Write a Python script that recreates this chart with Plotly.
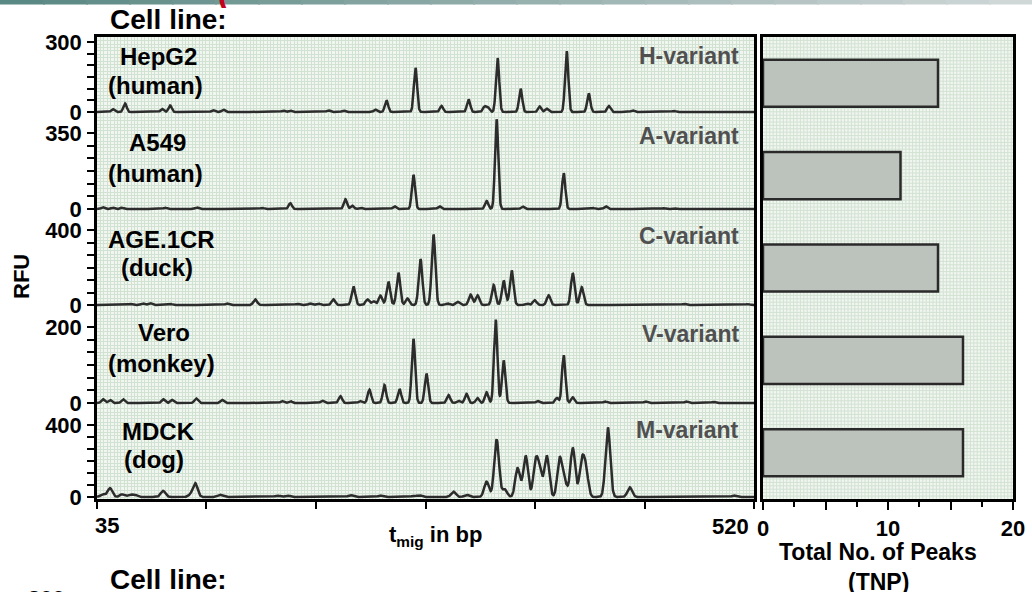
import numpy as np
import plotly.graph_objects as go

W, H = 1032, 592

# ---------------- data ----------------
cell_lines = ["HepG2", "A549", "AGE.1CR", "Vero", "MDCK"]
species = ["(human)", "(human)", "(duck)", "(monkey)", "(dog)"]
variants = ["H-variant", "A-variant", "C-variant", "V-variant", "M-variant"]
tnp = [14, 11, 14, 16, 16]
rfu_top = [300, 350, 400, 200, 400]
x_ticks = [35, 115.8, 196.7, 277.5, 358.3, 439.2, 520]
x_tick_labels = ["35", "520"]
tnp_ticks = [0, 5, 10, 15, 20]
tnp_tick_labels = ["0", "", "10", "", "20"]

hepg2_bp = [46.8, 55.7, 83.1, 89.0, 120.8, 128.2, 172.5, 177.7, 205.8, 216.9, 240.5, 248.7,
            270.1, 289.3, 309.3, 321.0, 323.5, 330.7, 347.7, 361.8, 367.0, 381.7, 398.0,
            412.8, 430.5, 460.9]
hepg2_rfu = [12, 37, 13, 28, 8, 10, 6, 6, 7, 6, 10, 50,
             190, 26, 54, 22, 20, 232, 100, 24, 14, 262, 79,
             26, 7, 5]

a549_bp = [39.4, 46.8, 53.5, 85.3, 108.9, 157.0, 177.7, 218.4, 223.5, 229.4, 254.6, 268.6,
           287.8, 322.6, 330.0, 349.2, 379.5, 401.0, 410.6, 453.5, 460.9]
a549_rfu = [8, 6, 6, 6, 7, 5, 27, 45, 15, 6, 12, 157,
            12, 37, 413, 11, 166, 5, 12, 4, 5]

age_bp = [59.4, 69.0, 74.2, 89.0, 131.1, 151.8, 182.9, 192.5, 198.4, 209.5, 224.3, 234.6,
          239.1, 244.2, 250.1, 257.5, 264.2, 273.8, 283.4, 293.8, 301.2, 310.8, 315.9,
          327.8, 335.2, 341.1, 352.2, 358.1, 368.4, 386.2, 392.8, 468.3, 515.6]
age_rfu = [6, 8, 10, 6, 8, 30, 6, 8, 8, 30, 99, 30,
           20, 50, 125, 173, 35, 245, 376, 8, 17, 55, 52,
           107, 130, 185, 8, 26, 52, 170, 95, 6, 5]

vero_bp = [39.4, 44.6, 54.2, 83.8, 90.4, 108.2, 127.4, 171.8, 177.7, 201.3, 214.7, 229.4,
           236.1, 247.2, 258.3, 268.6, 278.2, 294.5, 301.9, 307.8, 315.9, 322.6, 329.3,
           335.2, 360.3, 374.4, 379.5, 386.2, 410.0, 440.0, 470.0, 490.0]
vero_rfu = [10, 8, 10, 10, 8, 12, 8, 5, 5, 6, 18, 5,
            35, 47, 37, 169, 77, 21, 6, 24, 13, 28, 220,
            112, 5, 13, 126, 15, 4, 4, 4, 3]

mdck_bp = [39.4, 44.6, 53.5, 59.4, 63.1, 83.8, 104.0, 107.5, 125.9, 168.1, 175.5, 222.1,
           244.2, 268.6, 273.1, 298.2, 307.8, 322.6, 330.0, 335.9, 345.5, 351.4, 358.8,
           361.8, 367.0, 376.6, 380.3, 386.2, 392.8, 395.8, 412.1, 428.3, 505.2]
mdck_rfu = [15, 49, 15, 12, 12, 34, 10, 76, 12, 8, 8, 10,
            8, 6, 10, 30, 12, 85, 319, 43, 160, 229, 187,
            130, 229, 214, 76, 274, 187, 148, 387, 54, 8]

peaks_bp = [hepg2_bp, a549_bp, age_bp, vero_bp, mdck_bp]
peaks_rfu = [hepg2_rfu, a549_rfu, age_rfu, vero_rfu, mdck_rfu]

# ---------------- layout geometry (pixels) ----------------
def fx(px):
    return px / W

def fy(py):
    return 1 - py / H

row_edges = [37, 114, 211, 307, 405, 499]
zero_px = [112, 209, 305, 403, 497]
tick_px = [42, 133, 230, 327, 425]
peak_sigma = [1.2, 1.2, 1.35, 1.25, 1.75]
LEFT_X0, LEFT_X1 = 97, 754
RIGHT_X0, RIGHT_X1 = 763, 1013
GRID_PX = 3.4

BG = "#f1f6f1"
GRID = "#d2e2d2"
LINE = "#2c2c2c"
FONT = "Liberation Sans, Arial, sans-serif"

fig = go.Figure()
grid = np.arange(35, 520.01, 0.2)
for i in range(5):
    bp = np.array(peaks_bp[i])[:, None]
    hh = np.array(peaks_rfu[i])[:, None]
    y = (hh * np.exp(-0.5 * ((grid[None, :] - bp) / peak_sigma[i]) ** 2)).sum(axis=0)
    n = "" if i == 0 else str(i + 1)
    fig.add_trace(go.Scatter(x=grid, y=y, mode="lines", line=dict(color=LINE, width=2.5),
                             xaxis="x" + n, yaxis="y" + n, showlegend=False,
                             hoverinfo="skip"))

fig.add_trace(go.Bar(x=tnp, y=cell_lines, orientation="h", xaxis="x6", yaxis="y6",
                     width=0.51, showlegend=False,
                     marker=dict(color="#bcc3bc", line=dict(color="#2a2a2a", width=2.5))))

layout = dict(width=W, height=H, margin=dict(l=0, r=0, t=0, b=0, autoexpand=False),
              paper_bgcolor="white", plot_bgcolor=BG,
              font=dict(family=FONT, color="black", size=22, weight="bold"))

x_per_px = (520 - 35) / (LEFT_X1 - LEFT_X0)
for i in range(5):
    n = "" if i == 0 else str(i + 1)
    top, bot = row_edges[i], row_edges[i + 1]
    u = rfu_top[i] / (zero_px[i] - tick_px[i])
    ymin = -(bot - zero_px[i]) * u
    ymax = rfu_top[i] + (tick_px[i] - top) * u
    tv = [rfu_top[i] * k / 6 for k in range(7)]
    tt = ["0"] + [""] * 5 + [str(rfu_top[i])]
    layout["xaxis" + n] = dict(domain=[fx(LEFT_X0), fx(LEFT_X1)], range=[35, 520],
                               anchor="y" + n, showgrid=False, zeroline=False,
                               showline=False, automargin=False,
                               showticklabels=False, ticks="",
                               minor=dict(tick0=35, dtick=GRID_PX * x_per_px, showgrid=True,
                                          gridcolor=GRID, gridwidth=1, ticks=""))
    layout["yaxis" + n] = dict(domain=[fy(bot), fy(top)], range=[ymin, ymax], anchor="x" + n,
                               showgrid=False, zeroline=False, showline=True, mirror=True,
                               linewidth=2.5, linecolor="black", tickvals=tv, ticktext=tt,
                               ticks="outside", ticklen=7, tickwidth=2, tickcolor="black",
                               ticklabelstandoff=1, automargin=False,
                               tickfont=dict(size=22, weight="bold", family=FONT),
                               minor=dict(tick0=0, dtick=GRID_PX * u, showgrid=True,
                                          gridcolor=GRID, gridwidth=1, ticks=""))

layout["xaxis"].update(showline=True, side="top", linewidth=2.5, linecolor="black")
layout["xaxis5"].update(showline=True, linewidth=2.5, linecolor="black",
                        ticks="outside", tickvals=x_ticks, ticklen=7, tickwidth=2,
                        tickcolor="black")

layout["xaxis6"] = dict(domain=[fx(RIGHT_X0), fx(RIGHT_X1)], range=[0, 20], anchor="y6",
                        showgrid=False, zeroline=False, showline=True, mirror=True,
                        linewidth=2.5, linecolor="black", tickvals=tnp_ticks,
                        ticktext=tnp_tick_labels, ticks="outside", ticklen=8, tickwidth=2,
                        tickcolor="black", ticklabelstandoff=0, automargin=False,
                        tickfont=dict(size=22, weight="bold", family=FONT),
                        minor=dict(tickvals=[2.5, 7.5, 12.5, 17.5], ticks="outside",
                                   ticklen=5, tickwidth=2, tickcolor="black"))
layout["yaxis6"] = dict(domain=[fy(499), fy(37)], anchor="x6", type="category",
                        range=[4.5, -0.5], showgrid=False, zeroline=False, showline=True,
                        mirror=True, linewidth=2.5, linecolor="black", automargin=False,
                        showticklabels=False, ticks="")

ann = []
name_xy = [(158, 57), (157, 142), (161, 239), (164, 332), (158, 431)]
spec_xy = [(155, 85), (155, 173), (157, 268), (161, 363), (154, 459)]
var_y = [56, 136, 236, 334, 430]
for i in range(5):
    ann.append(dict(x=fx(name_xy[i][0]), y=fy(name_xy[i][1]), text=cell_lines[i],
                    font=dict(size=24)))
    ann.append(dict(x=fx(spec_xy[i][0]), y=fy(spec_xy[i][1]), text=species[i],
                    font=dict(size=24)))
    ann.append(dict(x=fx(741), y=fy(var_y[i]), text=variants[i], xanchor="right",
                    font=dict(size=23, color="#505050")))

ann += [
    dict(x=fx(108), y=fy(20), text="Cell line:", xanchor="left", font=dict(size=28)),
    dict(x=fx(108), y=fy(579), text="Cell line:", xanchor="left", font=dict(size=28)),
    dict(x=fx(67), y=fy(598), text="300", xanchor="right", font=dict(size=22)),
    dict(x=fx(21), y=fy(277), text="RFU", textangle=-90, font=dict(size=22)),
    dict(x=fx(93), y=fy(525), text=x_tick_labels[0], xanchor="left", font=dict(size=22)),
    dict(x=fx(751), y=fy(526), text=x_tick_labels[1], xanchor="right", font=dict(size=22)),
    dict(x=fx(435), y=fy(536), text="t<sub>mig</sub> in bp", font=dict(size=22)),
    dict(x=fx(878), y=fy(552), text="Total No. of Peaks", font=dict(size=23)),
    dict(x=fx(878), y=fy(582), text="(TNP)", font=dict(size=23)),
    dict(x=fx(216), y=fy(10), text="(", xanchor="left", yanchor="bottom",
         font=dict(size=34, color="#c4001a", style="italic")),
    dict(x=fx(792), y=fy(0.5), text="graphy)", xanchor="left", yanchor="bottom",
         font=dict(size=38, color="#c4001a", style="italic")),
]
for a in ann:
    a.setdefault("xref", "paper")
    a.setdefault("yref", "paper")
    a.setdefault("showarrow", False)
    a.setdefault("xanchor", "center")
    a.setdefault("yanchor", "middle")
    a["font"].setdefault("family", FONT)
    a["font"].setdefault("weight", "bold")
    a["font"].setdefault("color", "black")
layout["annotations"] = ann

shapes = []
# top banner gradient strip
c0 = np.array([0x5a, 0x88, 0x83])
c1 = np.array([0xd0, 0xd7, 0xd7])
nseg = 24
for k in range(nseg):
    t = k / (nseg - 1)
    c = (c0 * (1 - t) + c1 * t).astype(int)
    shapes.append(dict(type="rect", xref="paper", yref="paper", layer="below",
                       x0=k / nseg, x1=(k + 1) / nseg + 0.002, y0=fy(4.5), y1=1,
                       line=dict(width=0), fillcolor="rgb(%d,%d,%d)" % tuple(c)))
# graph-paper texture behind the bar panel
gx = RIGHT_X0 + GRID_PX
while gx < RIGHT_X1:
    shapes.append(dict(type="line", xref="paper", yref="paper", layer="below",
                       x0=fx(gx), x1=fx(gx), y0=fy(499), y1=fy(37),
                       line=dict(color=GRID, width=1)))
    gx += GRID_PX
gy = 37 + GRID_PX
while gy < 499:
    shapes.append(dict(type="line", xref="paper", yref="paper", layer="below",
                       x0=fx(RIGHT_X0), x1=fx(RIGHT_X1), y0=fy(gy), y1=fy(gy),
                       line=dict(color=GRID, width=1)))
    gy += GRID_PX
layout["shapes"] = shapes

fig.update_layout(**layout)
fig.write_html("out.html", config={"displayModeBar": False},
               post_script="document.body.style.margin='0';document.body.style.overflow='hidden';")
